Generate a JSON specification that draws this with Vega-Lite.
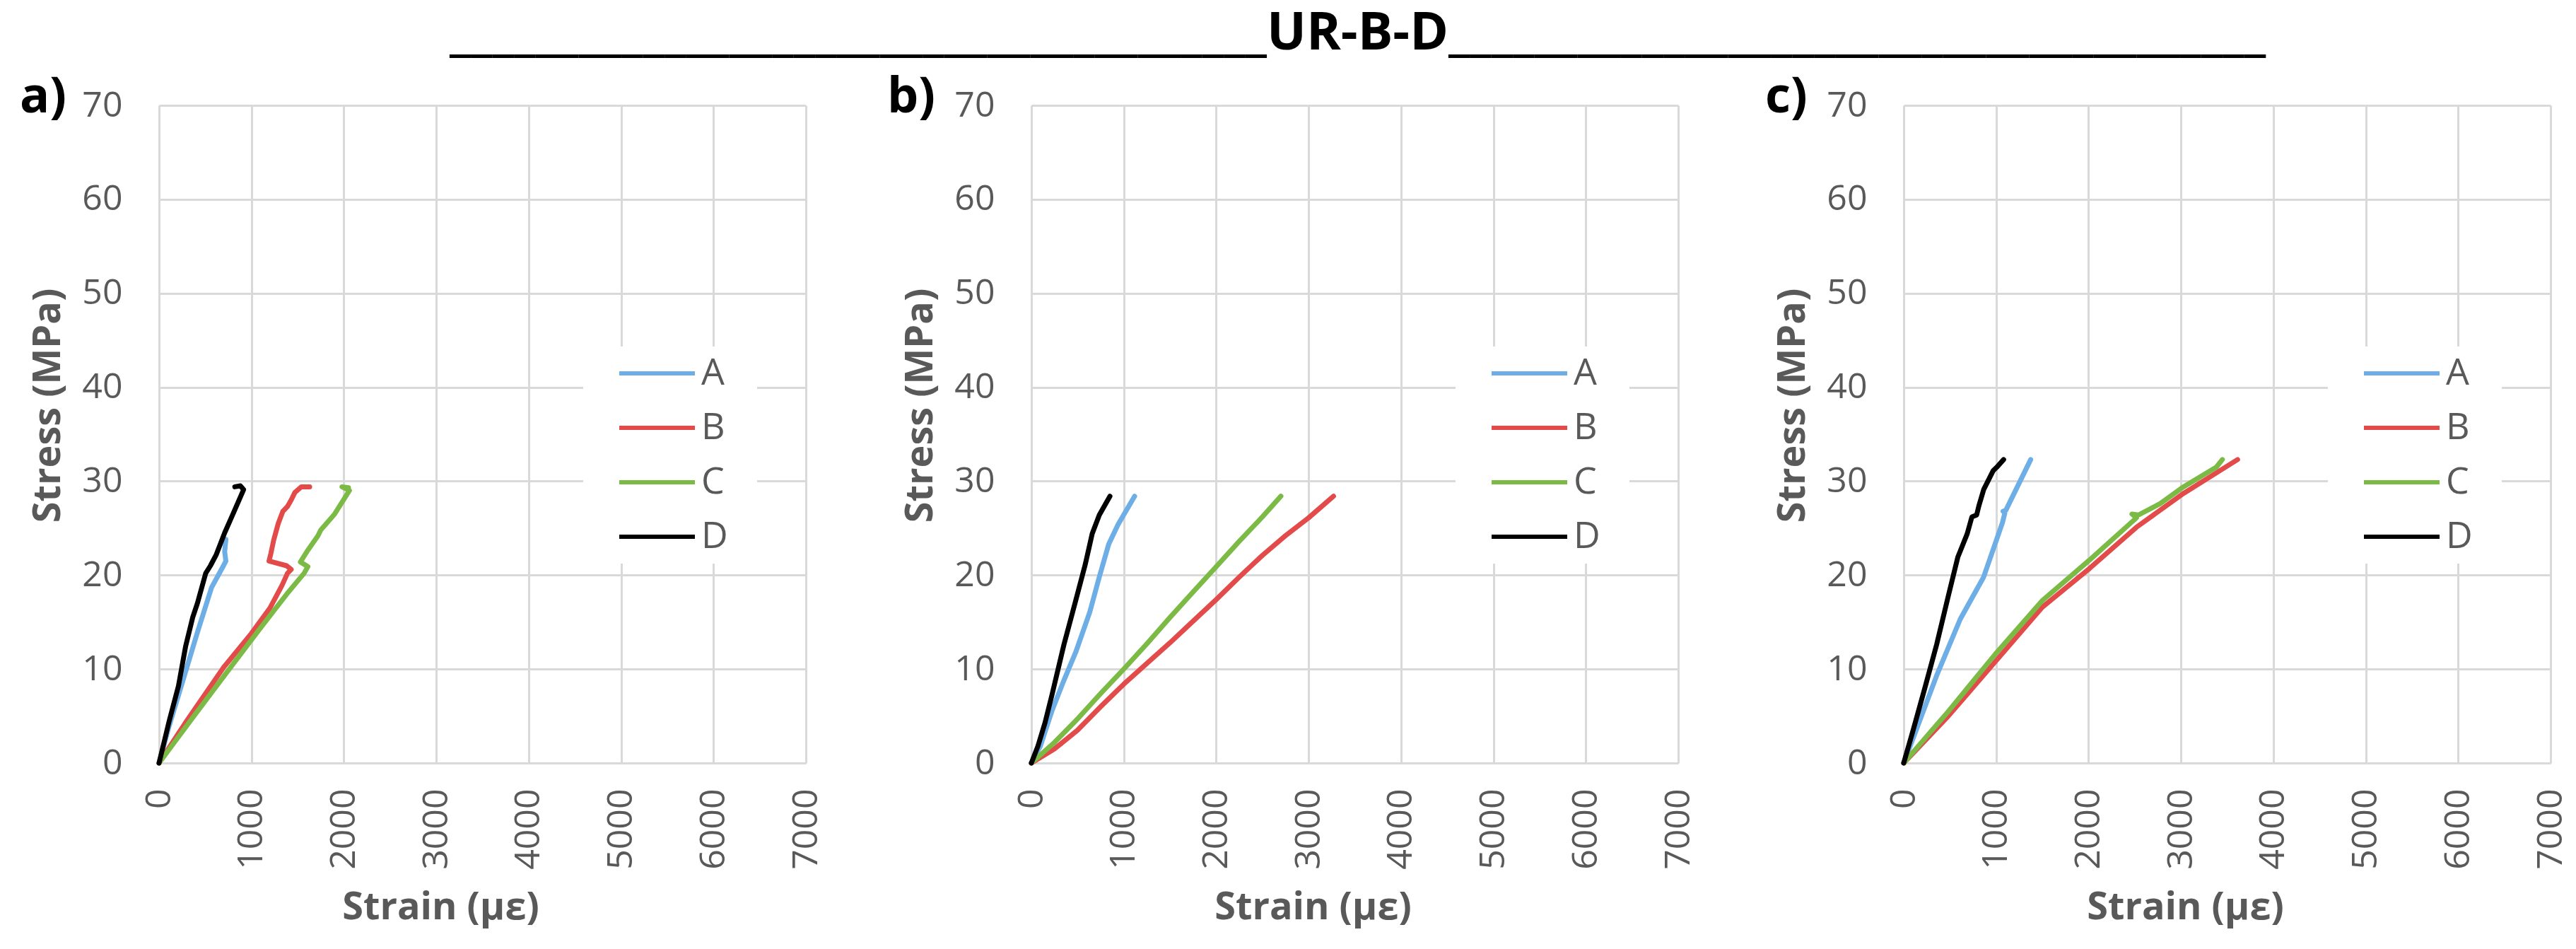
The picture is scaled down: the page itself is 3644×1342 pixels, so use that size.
{
  "$schema": "https://vega.github.io/schema/vega-lite/v6.json",
  "background": "white",
  "padding": {"left": 28, "top": 11, "right": 20, "bottom": 20},
  "title": {
    "text": "______________________________________UR-B-D______________________________________",
    "font": "Open Sans",
    "fontSize": 74,
    "fontWeight": "bold",
    "color": "black",
    "anchor": "middle",
    "dx": 90,
    "offset": 17
  },
  "data": {
    "values": [
      {"panel": "a", "series": "A", "i": 0, "strain": 0, "stress": 0},
      {"panel": "a", "series": "A", "i": 1, "strain": 108, "stress": 3.9},
      {"panel": "a", "series": "A", "i": 2, "strain": 262, "stress": 8.9},
      {"panel": "a", "series": "A", "i": 3, "strain": 415, "stress": 13.9},
      {"panel": "a", "series": "A", "i": 4, "strain": 569, "stress": 18.7},
      {"panel": "a", "series": "A", "i": 5, "strain": 697, "stress": 21.0},
      {"panel": "a", "series": "A", "i": 6, "strain": 723, "stress": 21.5},
      {"panel": "a", "series": "A", "i": 7, "strain": 710, "stress": 22.5},
      {"panel": "a", "series": "A", "i": 8, "strain": 723, "stress": 23.8},

      {"panel": "a", "series": "B", "i": 0, "strain": 0, "stress": 0},
      {"panel": "a", "series": "B", "i": 1, "strain": 300, "stress": 4.5},
      {"panel": "a", "series": "B", "i": 2, "strain": 700, "stress": 10.2},
      {"panel": "a", "series": "B", "i": 3, "strain": 1000, "stress": 13.8},
      {"panel": "a", "series": "B", "i": 4, "strain": 1200, "stress": 16.5},
      {"panel": "a", "series": "B", "i": 5, "strain": 1330, "stress": 18.9},
      {"panel": "a", "series": "B", "i": 6, "strain": 1390, "stress": 20.2},
      {"panel": "a", "series": "B", "i": 7, "strain": 1430, "stress": 20.6},
      {"panel": "a", "series": "B", "i": 8, "strain": 1380, "stress": 21.0},
      {"panel": "a", "series": "B", "i": 9, "strain": 1190, "stress": 21.5},
      {"panel": "a", "series": "B", "i": 10, "strain": 1210, "stress": 22.3},
      {"panel": "a", "series": "B", "i": 11, "strain": 1240, "stress": 23.7},
      {"panel": "a", "series": "B", "i": 12, "strain": 1290, "stress": 25.5},
      {"panel": "a", "series": "B", "i": 13, "strain": 1340, "stress": 26.8},
      {"panel": "a", "series": "B", "i": 14, "strain": 1390, "stress": 27.3},
      {"panel": "a", "series": "B", "i": 15, "strain": 1430, "stress": 28.0},
      {"panel": "a", "series": "B", "i": 16, "strain": 1470, "stress": 28.8},
      {"panel": "a", "series": "B", "i": 17, "strain": 1540, "stress": 29.4},
      {"panel": "a", "series": "B", "i": 18, "strain": 1630, "stress": 29.4},

      {"panel": "a", "series": "C", "i": 0, "strain": 0, "stress": 0},
      {"panel": "a", "series": "C", "i": 1, "strain": 400, "stress": 5.3},
      {"panel": "a", "series": "C", "i": 2, "strain": 760, "stress": 10.0},
      {"panel": "a", "series": "C", "i": 3, "strain": 1100, "stress": 14.4},
      {"panel": "a", "series": "C", "i": 4, "strain": 1400, "stress": 18.2},
      {"panel": "a", "series": "C", "i": 5, "strain": 1570, "stress": 20.2},
      {"panel": "a", "series": "C", "i": 6, "strain": 1610, "stress": 20.9},
      {"panel": "a", "series": "C", "i": 7, "strain": 1530, "stress": 21.4},
      {"panel": "a", "series": "C", "i": 8, "strain": 1600, "stress": 22.5},
      {"panel": "a", "series": "C", "i": 9, "strain": 1720, "stress": 24.2},
      {"panel": "a", "series": "C", "i": 10, "strain": 1750, "stress": 24.8},
      {"panel": "a", "series": "C", "i": 11, "strain": 1900, "stress": 26.5},
      {"panel": "a", "series": "C", "i": 12, "strain": 2060, "stress": 29.0},
      {"panel": "a", "series": "C", "i": 13, "strain": 1980, "stress": 29.4},
      {"panel": "a", "series": "C", "i": 14, "strain": 2050, "stress": 29.3},

      {"panel": "a", "series": "D", "i": 0, "strain": 0, "stress": 0},
      {"panel": "a", "series": "D", "i": 1, "strain": 108, "stress": 4.4},
      {"panel": "a", "series": "D", "i": 2, "strain": 210, "stress": 8.2},
      {"panel": "a", "series": "D", "i": 3, "strain": 287, "stress": 12.4},
      {"panel": "a", "series": "D", "i": 4, "strain": 364, "stress": 15.5},
      {"panel": "a", "series": "D", "i": 5, "strain": 415, "stress": 17.0},
      {"panel": "a", "series": "D", "i": 6, "strain": 505, "stress": 20.2},
      {"panel": "a", "series": "D", "i": 7, "strain": 556, "stress": 21.0},
      {"panel": "a", "series": "D", "i": 8, "strain": 620, "stress": 22.2},
      {"panel": "a", "series": "D", "i": 9, "strain": 710, "stress": 24.5},
      {"panel": "a", "series": "D", "i": 10, "strain": 800, "stress": 26.5},
      {"panel": "a", "series": "D", "i": 11, "strain": 915, "stress": 29.1},
      {"panel": "a", "series": "D", "i": 12, "strain": 880, "stress": 29.5},
      {"panel": "a", "series": "D", "i": 13, "strain": 820, "stress": 29.4},

      {"panel": "b", "series": "A", "i": 0, "strain": 0, "stress": 0},
      {"panel": "b", "series": "A", "i": 1, "strain": 97, "stress": 1.8},
      {"panel": "b", "series": "A", "i": 2, "strain": 224, "stress": 5.6},
      {"panel": "b", "series": "A", "i": 3, "strain": 352, "stress": 8.8},
      {"panel": "b", "series": "A", "i": 4, "strain": 480, "stress": 11.8},
      {"panel": "b", "series": "A", "i": 5, "strain": 633, "stress": 16.1},
      {"panel": "b", "series": "A", "i": 6, "strain": 735, "stress": 19.8},
      {"panel": "b", "series": "A", "i": 7, "strain": 837, "stress": 23.3},
      {"panel": "b", "series": "A", "i": 8, "strain": 939, "stress": 25.4},
      {"panel": "b", "series": "A", "i": 9, "strain": 1117, "stress": 28.4},

      {"panel": "b", "series": "B", "i": 0, "strain": 0, "stress": 0},
      {"panel": "b", "series": "B", "i": 1, "strain": 250, "stress": 1.5},
      {"panel": "b", "series": "B", "i": 2, "strain": 500, "stress": 3.5},
      {"panel": "b", "series": "B", "i": 3, "strain": 750, "stress": 6.0},
      {"panel": "b", "series": "B", "i": 4, "strain": 1000, "stress": 8.4},
      {"panel": "b", "series": "B", "i": 5, "strain": 1250, "stress": 10.6},
      {"panel": "b", "series": "B", "i": 6, "strain": 1500, "stress": 12.8},
      {"panel": "b", "series": "B", "i": 7, "strain": 1750, "stress": 15.1},
      {"panel": "b", "series": "B", "i": 8, "strain": 2000, "stress": 17.4},
      {"panel": "b", "series": "B", "i": 9, "strain": 2250, "stress": 19.8},
      {"panel": "b", "series": "B", "i": 10, "strain": 2500, "stress": 22.1},
      {"panel": "b", "series": "B", "i": 11, "strain": 2750, "stress": 24.2},
      {"panel": "b", "series": "B", "i": 12, "strain": 3000, "stress": 26.1},
      {"panel": "b", "series": "B", "i": 13, "strain": 3270, "stress": 28.4},

      {"panel": "b", "series": "C", "i": 0, "strain": 0, "stress": 0},
      {"panel": "b", "series": "C", "i": 1, "strain": 250, "stress": 2.2},
      {"panel": "b", "series": "C", "i": 2, "strain": 500, "stress": 4.7},
      {"panel": "b", "series": "C", "i": 3, "strain": 750, "stress": 7.4},
      {"panel": "b", "series": "C", "i": 4, "strain": 1000, "stress": 10.0},
      {"panel": "b", "series": "C", "i": 5, "strain": 1250, "stress": 12.7},
      {"panel": "b", "series": "C", "i": 6, "strain": 1500, "stress": 15.5},
      {"panel": "b", "series": "C", "i": 7, "strain": 1750, "stress": 18.2},
      {"panel": "b", "series": "C", "i": 8, "strain": 2000, "stress": 20.9},
      {"panel": "b", "series": "C", "i": 9, "strain": 2250, "stress": 23.6},
      {"panel": "b", "series": "C", "i": 10, "strain": 2500, "stress": 26.2},
      {"panel": "b", "series": "C", "i": 11, "strain": 2700, "stress": 28.4},

      {"panel": "b", "series": "D", "i": 0, "strain": 0, "stress": 0},
      {"panel": "b", "series": "D", "i": 1, "strain": 71, "stress": 1.8},
      {"panel": "b", "series": "D", "i": 2, "strain": 148, "stress": 4.3},
      {"panel": "b", "series": "D", "i": 3, "strain": 224, "stress": 7.3},
      {"panel": "b", "series": "D", "i": 4, "strain": 352, "stress": 12.6},
      {"panel": "b", "series": "D", "i": 5, "strain": 480, "stress": 17.3},
      {"panel": "b", "series": "D", "i": 6, "strain": 582, "stress": 21.1},
      {"panel": "b", "series": "D", "i": 7, "strain": 658, "stress": 24.4},
      {"panel": "b", "series": "D", "i": 8, "strain": 735, "stress": 26.4},
      {"panel": "b", "series": "D", "i": 9, "strain": 850, "stress": 28.4},

      {"panel": "c", "series": "A", "i": 0, "strain": 0, "stress": 0},
      {"panel": "c", "series": "A", "i": 1, "strain": 127, "stress": 3.3},
      {"panel": "c", "series": "A", "i": 2, "strain": 356, "stress": 9.3},
      {"panel": "c", "series": "A", "i": 3, "strain": 611, "stress": 15.3},
      {"panel": "c", "series": "A", "i": 4, "strain": 865, "stress": 19.8},
      {"panel": "c", "series": "A", "i": 5, "strain": 1069, "stress": 25.6},
      {"panel": "c", "series": "A", "i": 6, "strain": 1094, "stress": 26.6},
      {"panel": "c", "series": "A", "i": 7, "strain": 1075, "stress": 26.8},
      {"panel": "c", "series": "A", "i": 8, "strain": 1105, "stress": 26.9},
      {"panel": "c", "series": "A", "i": 9, "strain": 1374, "stress": 32.3},

      {"panel": "c", "series": "B", "i": 0, "strain": 0, "stress": 0},
      {"panel": "c", "series": "B", "i": 1, "strain": 483, "stress": 5.0},
      {"panel": "c", "series": "B", "i": 2, "strain": 992, "stress": 10.8},
      {"panel": "c", "series": "B", "i": 3, "strain": 1501, "stress": 16.6},
      {"panel": "c", "series": "B", "i": 4, "strain": 2010, "stress": 20.7},
      {"panel": "c", "series": "B", "i": 5, "strain": 2519, "stress": 25.1},
      {"panel": "c", "series": "B", "i": 6, "strain": 3028, "stress": 28.7},
      {"panel": "c", "series": "B", "i": 7, "strain": 3613, "stress": 32.3},

      {"panel": "c", "series": "C", "i": 0, "strain": 0, "stress": 0},
      {"panel": "c", "series": "C", "i": 1, "strain": 483, "stress": 5.5},
      {"panel": "c", "series": "C", "i": 2, "strain": 992, "stress": 11.6},
      {"panel": "c", "series": "C", "i": 3, "strain": 1501, "stress": 17.3},
      {"panel": "c", "series": "C", "i": 4, "strain": 2010, "stress": 21.6},
      {"panel": "c", "series": "C", "i": 5, "strain": 2519, "stress": 26.1},
      {"panel": "c", "series": "C", "i": 6, "strain": 2470, "stress": 26.5},
      {"panel": "c", "series": "C", "i": 7, "strain": 2540, "stress": 26.4},
      {"panel": "c", "series": "C", "i": 8, "strain": 2773, "stress": 27.6},
      {"panel": "c", "series": "C", "i": 9, "strain": 3028, "stress": 29.4},
      {"panel": "c", "series": "C", "i": 10, "strain": 3384, "stress": 31.5},
      {"panel": "c", "series": "C", "i": 11, "strain": 3448, "stress": 32.3},

      {"panel": "c", "series": "D", "i": 0, "strain": 0, "stress": 0},
      {"panel": "c", "series": "D", "i": 1, "strain": 102, "stress": 3.5},
      {"panel": "c", "series": "D", "i": 2, "strain": 229, "stress": 8.0},
      {"panel": "c", "series": "D", "i": 3, "strain": 356, "stress": 12.6},
      {"panel": "c", "series": "D", "i": 4, "strain": 483, "stress": 17.8},
      {"panel": "c", "series": "D", "i": 5, "strain": 585, "stress": 21.9},
      {"panel": "c", "series": "D", "i": 6, "strain": 687, "stress": 24.4},
      {"panel": "c", "series": "D", "i": 7, "strain": 738, "stress": 26.2},
      {"panel": "c", "series": "D", "i": 8, "strain": 789, "stress": 26.4},
      {"panel": "c", "series": "D", "i": 9, "strain": 814, "stress": 27.4},
      {"panel": "c", "series": "D", "i": 10, "strain": 865, "stress": 29.1},
      {"panel": "c", "series": "D", "i": 11, "strain": 967, "stress": 31.1},
      {"panel": "c", "series": "D", "i": 12, "strain": 1018, "stress": 31.6},
      {"panel": "c", "series": "D", "i": 13, "strain": 1081, "stress": 32.3}
    ]
  },
  "bounds": "flush",
  "spacing": 319,
  "resolve": {"legend": {"color": "independent"}},
  "hconcat": [
    {
      "title": {"text": "a)", "anchor": "start", "frame": "group", "dx": -197, "dy": 65, "offset": -40, "baseline": "alphabetic", "font": "Open Sans", "fontSize": 70, "fontWeight": "bold", "color": "black"},
      "width": 915,
      "height": 930,
      "transform": [{"filter": "datum.panel === 'a'"}],
      "mark": {"type": "line", "strokeWidth": 7, "strokeJoin": "round", "strokeCap": "round"},
      "encoding": {
        "x": {"field": "strain", "type": "quantitative", "scale": {"domain": [0, 7000], "nice": false},
              "axis": {"title": "Strain (με)", "format": "d", "values": [0, 1000, 2000, 3000, 4000, 5000, 6000, 7000], "titleX": 398, "titleY": 220, "titleBaseline": "alphabetic"}},
        "y": {"field": "stress", "type": "quantitative", "scale": {"domain": [0, 70], "nice": false},
              "axis": {"title": "Stress (MPa)", "values": [0, 10, 20, 30, 40, 50, 60, 70], "titleX": -157, "titleY": 424, "titleBaseline": "middle"}},
        "color": {"field": "series", "type": "nominal",
                  "scale": {"domain": ["A", "B", "C", "D"], "range": ["#6daee6", "#e34a4a", "#7bba45", "#000000"]},
                  "legend": {"title": " ", "titleOrient": "right", "titlePadding": 29, "titleFontSize": 52, "orient": "none", "legendX": 600, "legendY": 341, "padding": 12, "fillColor": "white", "symbolType": "M0.65,0H6", "symbolSize": 1600, "symbolStrokeWidth": 6, "labelFont": "Open Sans", "labelFontSize": 52, "labelColor": "#595959", "labelOffset": 103, "rowPadding": 25}},
        "order": {"field": "i", "type": "quantitative"}
      }
    },
    {
      "title": {"text": "b)", "anchor": "start", "frame": "group", "dx": -204, "dy": 65, "offset": -40, "baseline": "alphabetic", "font": "Open Sans", "fontSize": 70, "fontWeight": "bold", "color": "black"},
      "width": 915,
      "height": 930,
      "transform": [{"filter": "datum.panel === 'b'"}],
      "mark": {"type": "line", "strokeWidth": 7, "strokeJoin": "round", "strokeCap": "round"},
      "encoding": {
        "x": {"field": "strain", "type": "quantitative", "scale": {"domain": [0, 7000], "nice": false},
              "axis": {"title": "Strain (με)", "format": "d", "values": [0, 1000, 2000, 3000, 4000, 5000, 6000, 7000], "titleX": 398, "titleY": 220, "titleBaseline": "alphabetic"}},
        "y": {"field": "stress", "type": "quantitative", "scale": {"domain": [0, 70], "nice": false},
              "axis": {"title": "Stress (MPa)", "values": [0, 10, 20, 30, 40, 50, 60, 70], "titleX": -157, "titleY": 424, "titleBaseline": "middle"}},
        "color": {"field": "series", "type": "nominal",
                  "scale": {"domain": ["A", "B", "C", "D"], "range": ["#6daee6", "#e34a4a", "#7bba45", "#000000"]},
                  "legend": {"title": " ", "titleOrient": "right", "titlePadding": 29, "titleFontSize": 52, "orient": "none", "legendX": 600, "legendY": 341, "padding": 12, "fillColor": "white", "symbolType": "M0.65,0H6", "symbolSize": 1600, "symbolStrokeWidth": 6, "labelFont": "Open Sans", "labelFontSize": 52, "labelColor": "#595959", "labelOffset": 103, "rowPadding": 25}},
        "order": {"field": "i", "type": "quantitative"}
      }
    },
    {
      "title": {"text": "c)", "anchor": "start", "frame": "group", "dx": -196, "dy": 65, "offset": -40, "baseline": "alphabetic", "font": "Open Sans", "fontSize": 70, "fontWeight": "bold", "color": "black"},
      "width": 915,
      "height": 930,
      "transform": [{"filter": "datum.panel === 'c'"}],
      "mark": {"type": "line", "strokeWidth": 7, "strokeJoin": "round", "strokeCap": "round"},
      "encoding": {
        "x": {"field": "strain", "type": "quantitative", "scale": {"domain": [0, 7000], "nice": false},
              "axis": {"title": "Strain (με)", "format": "d", "values": [0, 1000, 2000, 3000, 4000, 5000, 6000, 7000], "titleX": 398, "titleY": 220, "titleBaseline": "alphabetic"}},
        "y": {"field": "stress", "type": "quantitative", "scale": {"domain": [0, 70], "nice": false},
              "axis": {"title": "Stress (MPa)", "values": [0, 10, 20, 30, 40, 50, 60, 70], "titleX": -157, "titleY": 424, "titleBaseline": "middle"}},
        "color": {"field": "series", "type": "nominal",
                  "scale": {"domain": ["A", "B", "C", "D"], "range": ["#6daee6", "#e34a4a", "#7bba45", "#000000"]},
                  "legend": {"title": " ", "titleOrient": "right", "titlePadding": 29, "titleFontSize": 52, "orient": "none", "legendX": 600, "legendY": 341, "padding": 12, "fillColor": "white", "symbolType": "M0.65,0H6", "symbolSize": 1600, "symbolStrokeWidth": 6, "labelFont": "Open Sans", "labelFontSize": 52, "labelColor": "#595959", "labelOffset": 103, "rowPadding": 25}},
        "order": {"field": "i", "type": "quantitative"}
      }
    }
  ],
  "config": {
    "view": {"stroke": null},
    "axis": {
      "labelFont": "Open Sans",
      "labelFontSize": 50,
      "labelColor": "#595959",
      "titleFont": "Open Sans",
      "titleFontSize": 54,
      "titleFontWeight": "bold",
      "titleColor": "#595959",
      "gridColor": "#d9d9d9",
      "gridWidth": 3,
      "domainColor": "#d9d9d9",
      "domainWidth": 3,
      "ticks": false,
      "labelFlush": false,
      "labelOverlap": false
    },
    "axisX": {"labelAngle": 270, "labelPadding": 36},
    "axisY": {"labelPadding": 52}
  }
}
